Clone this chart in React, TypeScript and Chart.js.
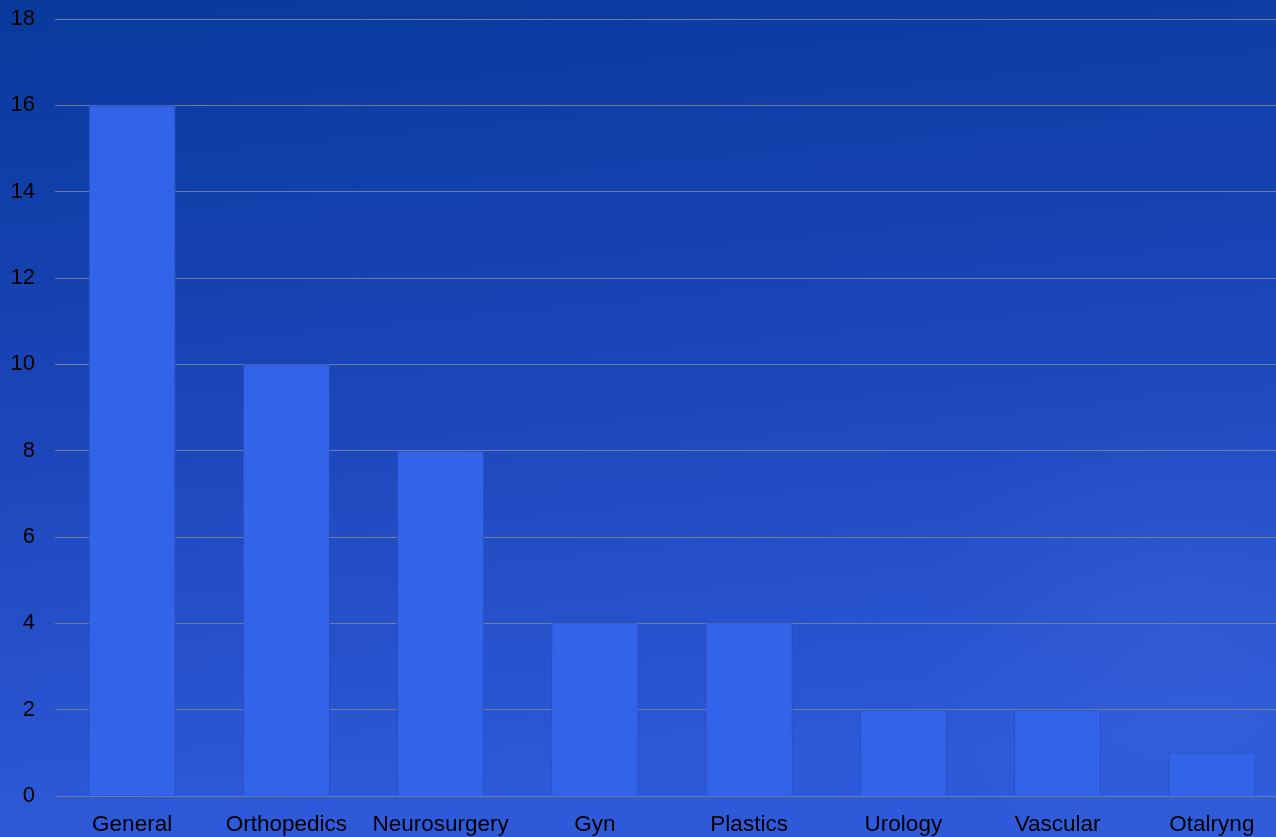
import React, { useEffect, useRef } from "react";
import { Chart, registerables } from "chart.js";

Chart.register(...registerables);

const categories = ["General", "Orthopedics", "Neurosurgery", "Gyn", "Plastics", "Urology", "Vascular", "Otalryng"];
const counts = [16, 10, 8, 4, 4, 2, 2, 1];
const yMin = 0;
const yMax = 18;
const yStep = 2;

const bgPlugin = {
  id: "bgGradient",
  beforeDraw(chart: any) {
    const { ctx, width, height } = chart;
    ctx.save();
    const g = ctx.createLinearGradient(0, 0, 80, height);
    g.addColorStop(0, "#083a9c");
    g.addColorStop(0.45, "#1944b6");
    g.addColorStop(1, "#2e59d8");
    ctx.fillStyle = g;
    ctx.fillRect(0, 0, width, height);
    const r = ctx.createRadialGradient(1180, 640, 0, 1180, 640, 260);
    r.addColorStop(0, "rgba(90,130,230,0.15)");
    r.addColorStop(1, "rgba(90,130,230,0)");
    ctx.fillStyle = r;
    ctx.fillRect(0, 0, width, height);
    ctx.restore();
  },
};

const FONT = "'Liberation Sans', Arial, sans-serif";

export default function App() {
  const ref = useRef<HTMLCanvasElement>(null);
  useEffect(() => {
    document.body.style.margin = "0";
    document.body.style.overflow = "hidden";
    const chart = new Chart(ref.current!, {
      type: "bar",
      data: {
        labels: categories,
        datasets: [
          {
            data: counts,
            backgroundColor: "#3264e9",
            borderColor: "#2a4fb8",
            borderWidth: 1,
            barPercentage: 0.565,
            categoryPercentage: 1,
          },
        ],
      },
      options: {
        animation: false,
        responsive: false,
        maintainAspectRatio: false,
        layout: { padding: { top: 0, right: 1, bottom: 0, left: 0 } },
        plugins: { legend: { display: false }, tooltip: { enabled: false } },
        scales: {
          x: {
            afterFit(scale: any) {
              scale.height = 41;
            },
            grid: { display: false, drawTicks: false },
            border: { display: true, color: "#6f7c9e", width: 1 },
            ticks: {
              color: "#000",
              padding: 15,
              maxRotation: 0,
              autoSkip: false,
              font: { family: FONT, size: 22.5 },
            },
          },
          y: {
            min: yMin,
            max: yMax,
            afterFit(scale: any) {
              scale.width = 55;
              scale.paddingTop = 19;
            },
            grid: { color: "#6f7c9e", lineWidth: 1, drawTicks: false },
            border: { display: false },
            ticks: {
              stepSize: yStep,
              color: "#000",
              padding: 20,
              font: { family: FONT, size: 22 },
            },
          },
        },
      },
      plugins: [bgPlugin],
    });
    return () => chart.destroy();
  }, []);
  return (
    <div style={{ width: 1276, height: 837, overflow: "hidden" }}>
      <canvas ref={ref} width={1290} height={837} style={{ display: "block", width: 1290, height: 837 }} />
    </div>
  );
}
